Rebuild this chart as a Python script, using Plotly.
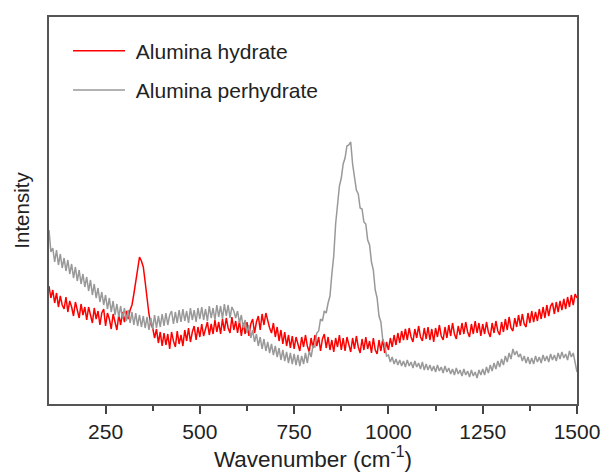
import plotly.graph_objects as go

wavenumber = list(range(100, 1501, 5))

hydrate = [
    118, 106, 114, 101, 111, 97, 108, 99, 95, 107,
    92, 103, 97, 88, 102, 93, 86, 100, 89, 97,
    84, 97, 90, 81, 96, 85, 93, 79, 91, 95,
    78, 91, 85, 75, 90, 82, 74, 89, 79, 92,
    82, 93, 85, 94, 99, 110, 124, 138, 147, 143,
    137, 122, 104, 90, 80, 76, 66, 75, 61, 72,
    58, 71, 59, 70, 55, 72, 63, 57, 73, 60,
    69, 58, 74, 63, 76, 62, 72, 78, 64, 77,
    67, 80, 68, 76, 82, 69, 80, 70, 84, 72,
    82, 70, 85, 73, 86, 76, 71, 87, 74, 83,
    71, 83, 68, 81, 70, 82, 68, 80, 85, 71,
    82, 88, 74, 90, 79, 91, 82, 76, 71, 81,
    67, 77, 63, 74, 60, 72, 58, 69, 56, 68,
    55, 67, 60, 53, 67, 57, 69, 58, 52, 66,
    56, 69, 58, 67, 53, 65, 70, 56, 67, 54,
    64, 52, 66, 57, 69, 54, 66, 53, 67, 58,
    52, 66, 55, 68, 57, 51, 65, 54, 67, 55,
    63, 51, 66, 54, 50, 64, 53, 65, 51, 62,
    54, 66, 57, 69, 59, 71, 61, 73, 64, 75,
    64, 76, 67, 62, 75, 66, 78, 67, 63, 76,
    65, 77, 64, 75, 62, 76, 67, 79, 68, 64,
    77, 66, 79, 68, 81, 70, 65, 78, 69, 81,
    70, 82, 72, 67, 80, 70, 83, 71, 81, 68,
    80, 70, 82, 72, 67, 81, 71, 83, 73, 69,
    82, 72, 85, 74, 87, 76, 73, 86, 77, 89,
    78, 90, 80, 77, 91, 81, 93, 82, 92, 83,
    95, 85, 97, 86, 99, 88, 98, 101, 90, 102,
    92, 103, 94, 105, 95, 107, 97, 109, 99, 110,
    106]

perhydrate = [
    174, 152, 156, 142, 154, 139, 150, 136, 146, 133,
    144, 130, 140, 126, 137, 123, 134, 120, 130, 117,
    127, 113, 124, 109, 120, 106, 116, 102, 112, 99,
    109, 95, 106, 92, 103, 89, 100, 87, 98, 85,
    96, 83, 94, 81, 92, 79, 91, 78, 89, 77,
    88, 76, 87, 74, 86, 75, 89, 76, 88, 77,
    90, 78, 91, 79, 89, 93, 80, 92, 81, 94,
    82, 95, 83, 93, 81, 96, 84, 94, 82, 96,
    85, 97, 84, 95, 83, 98, 86, 96, 84, 99,
    87, 98, 85, 100, 88, 99, 86, 97, 93, 86,
    93, 81, 89, 76, 84, 71, 79, 66, 74, 62,
    70, 58, 67, 55, 65, 53, 62, 51, 60, 49,
    58, 47, 56, 44, 54, 43, 52, 41, 51, 40,
    50, 39, 49, 38, 48, 40, 51, 41, 53, 47,
    58, 57, 71, 73, 85, 83, 93, 91, 101, 108,
    130, 148, 180, 198, 218, 226, 240, 246, 258, 259,
    262, 240, 228, 214, 210, 196, 195, 182, 180, 164,
    159, 142, 134, 114, 106, 88, 82, 64, 60, 48,
    49, 42, 47, 40, 45, 39, 44, 38, 43, 37,
    44, 38, 42, 36, 43, 37, 41, 35, 42, 34,
    40, 34, 39, 33, 38, 32, 39, 33, 37, 31,
    38, 32, 36, 30, 35, 29, 36, 30, 34, 28,
    35, 29, 33, 27, 34, 28, 32, 26, 34, 29,
    35, 29, 37, 31, 39, 33, 41, 35, 43, 37,
    45, 39, 48, 42, 51, 45, 55, 49, 53, 47,
    50, 43, 48, 41, 47, 40, 46, 40, 48, 42,
    47, 41, 49, 43, 48, 42, 50, 44, 49, 43,
    51, 45, 52, 46, 50, 44, 53, 47, 51, 42,
    32]

font_family = "Arial, Liberation Sans, sans-serif"

fig = go.Figure()
fig.add_trace(go.Scatter(x=wavenumber, y=hydrate, mode="lines",
                         name="\u00a0Alumina hydrate", legendgroup="a",
                         line=dict(color="#ff0000", width=1.5)))
fig.add_trace(go.Scatter(x=wavenumber, y=perhydrate, mode="lines",
                         name="\u00a0Alumina perhydrate", legendgroup="b",
                         line=dict(color="#999999", width=1.5)))

fig.update_layout(
    width=603, height=473,
    margin=dict(l=49, r=26, t=17, b=69),
    paper_bgcolor="white", plot_bgcolor="white",
    font=dict(family=font_family, color="#222222"),
    showlegend=True,
    legend=dict(x=0.036, y=0.965, xanchor="left", yanchor="top",
                bgcolor="rgba(0,0,0,0)", font=dict(size=21, color="#222222"),
                tracegroupgap=9, itemwidth=52),
    xaxis=dict(range=[100, 1500], tickvals=[250, 500, 750, 1000, 1250, 1500],
               automargin=False,
               ticks="outside", ticklen=8, tickwidth=2, tickcolor="#444444",
               minor=dict(tickvals=[375, 625, 875, 1125, 1375], ticks="outside",
                          ticklen=5, tickwidth=1.5, tickcolor="#444444"),
               showline=True, linecolor="#555555", linewidth=2, mirror=True,
               showgrid=False, zeroline=False,
               tickfont=dict(size=21, color="#222222"),
               title=dict(text="Wavenumber (cm<sup>-1</sup>)", standoff=2,
                          font=dict(size=22.5, color="#222222"))),
    yaxis=dict(range=[0, 387], showticklabels=False, ticks="",
               automargin=False,
               showline=True, linecolor="#555555", linewidth=2, mirror=True,
               showgrid=False, zeroline=False,
               title=dict(text="Intensity", standoff=12,
                          font=dict(size=20.5, color="#222222"))),
)

fig.write_html("out.html")
